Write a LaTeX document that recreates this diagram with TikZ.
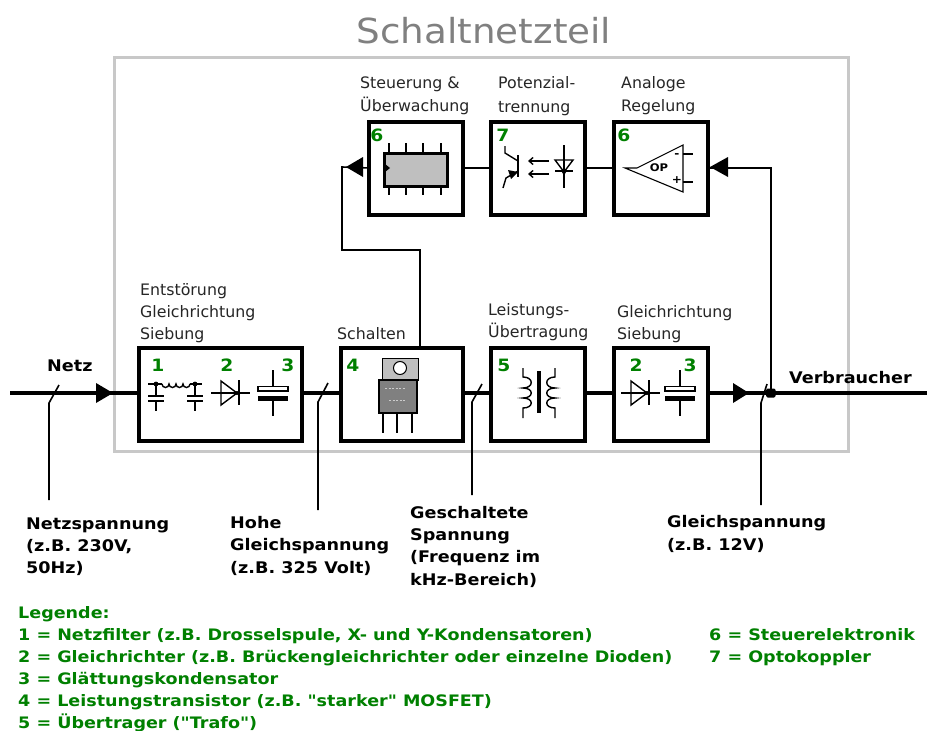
\documentclass[tikz,border=0pt]{standalone}
\usepackage{fontspec}
\setmainfont{DejaVu Sans}
\newfontfamily\plainf[FakeStretch=1.0]{DejaVu Sans}
\newfontfamily\titlef[FakeStretch=1.08]{DejaVu Sans}
\newfontfamily\boldf[FakeStretch=1.1]{DejaVu Sans Bold}
\newfontfamily\legf[FakeStretch=1.11]{DejaVu Sans Bold}
\usetikzlibrary{arrows.meta}
\definecolor{lgreen}{RGB}{0,128,0}
\definecolor{frame}{RGB}{200,200,200}
\tikzset{x=1pt,y=-1pt,
 blockbox/.style={draw=black,line width=4pt,fill=white,minimum width=94pt,minimum height=93pt,inner sep=0pt,outer sep=0pt},
 lab/.style={anchor=base west,inner sep=0pt,font=\plainf\fontsize{15.8}{16}\selectfont,text=black!85},
 blab/.style={anchor=base west,inner sep=0pt,font=\boldf\fontsize{16}{16}\selectfont},
 leg/.style={anchor=base west,inner sep=0pt,font=\legf\fontsize{15.8}{16}\selectfont,text=lgreen},
 num/.style={anchor=center,inner sep=0pt,font=\boldf\fontsize{17}{17}\selectfont,text=lgreen},
 thin line/.style={line width=1.6pt},
 main/.style={line width=3.4pt},
 sym/.style={line width=1.4pt},
 tri/.style={fill=black,draw=none}}
\begin{document}
\begin{tikzpicture}
\useasboundingbox (0,0) rectangle (927,731);
\fill[white] (0,0) rectangle (927,731);
\draw[frame,line width=3pt] (114,57) rectangle (848,451);
\node[anchor=base,inner sep=0pt,font=\titlef\fontsize{34.5}{36}\selectfont,text=black!50] (title) at (484,43) {Schaltnetzteil};

\coordinate (in) at (10,393);
\coordinate (out) at (927,393);
\coordinate (junc) at (771,393);
\coordinate (fb1) at (342,250);
\coordinate (fb2) at (420,250);

\node[blockbox,minimum width=163pt] (b1) at (220.5,394.5) {};
\node[blockbox,minimum width=122pt] (b4) at (402,394.5) {};
\node[blockbox] (b5) at (538,394.5) {};
\node[blockbox] (b23) at (661,394.5) {};
\node[blockbox] (c6a) at (416,168) {};
\node[blockbox] (c7) at (538,168) {};
\node[blockbox] (c6b) at (660.5,168) {};

\draw[main] (in) -- (b1.west|-in);
\draw[main] (b1.east|-in) -- (b4.west|-in);
\draw[main] (b4.east|-in) -- (b5.west|-in);
\draw[main] (b5.east|-in) -- (b23.west|-in);
\draw[main] (b23.east|-in) -- (out);
\draw[thin line] (c6a) -- (c7);
\draw[thin line] (c7) -- (c6b);
\draw[thin line] (b4.north-|fb2) -- (fb2) -- (fb1) -- (342,167) -- (c6a.west);
\draw[thin line] (junc) -- (771,168) -- (c6b.east);
\fill[rounded corners=1.5pt] (junc) +(-5,-4.5) rectangle +(4.5,4.5);
\fill[tri] (96,383) -- (113,393) -- (96,403) -- cycle;
\fill[tri] (733,383) -- (749,393) -- (733,403) -- cycle;
\fill[tri] (346,167) -- (363,157) -- (363,177) -- cycle;
\fill[tri] (710,167) -- (728,157) -- (728,177) -- cycle;
\draw[thin line] (59,385) -- (49,403) -- (49,500);
\draw[thin line] (328,383) -- (318,402) -- (318,510);
\draw[thin line] (482,384) -- (472,402) -- (472,495);
\draw[thin line] (767,384) -- (761,403) -- (761,505);

\node[lab] (t1) at (140,295) {Entstörung};
\node[lab] (t2) at (140,317) {Gleichrichtung};
\node[lab] (t3) at (140,339) {Siebung};
\node[lab] (t4) at (337,339) {Schalten};
\node[lab] (t5) at (488,315) {Leistungs-};
\node[lab] (t6) at (488,337) {Übertragung};
\node[lab] (t7) at (617,317) {Gleichrichtung};
\node[lab] (t8) at (617,339) {Siebung};
\node[lab] (t9) at (360,88) {Steuerung \&};
\node[lab] (t10) at (360,111) {Überwachung};
\node[lab] (t11) at (498,88) {Potenzial-};
\node[lab] (t12) at (498,112) {trennung};
\node[lab] (t13) at (621,88) {Analoge};
\node[lab] (t14) at (621,111) {Regelung};

\node[num] (n1) at (158,365) {1};
\node[num] (n2) at (227,365) {2};
\node[num] (n3) at (288,365) {3};
\node[num] (n4) at (353,365) {4};
\node[num] (n5) at (504,365) {5};
\node[num] (n6) at (636,365) {2};
\node[num] (n7) at (690,365) {3};
\node[num] (n8) at (377,135) {6};
\node[num] (n9) at (503,135) {7};
\node[num] (n10) at (624,135) {6};

\begin{scope}[sym]
\draw (148,384) -- (162,384);
\draw (162,384) arc (180:0:3.5) arc (180:0:3.5) arc (180:0:3.5) arc (180:0:3.5);
\draw (190,384) -- (202,384);
\foreach \x in {156,195}{
 \fill (\x,384) circle (2.4);
 \draw (\x,384) -- (\x,396);
 \draw[line width=1.8pt] (\x-8,396) -- (\x+8,396);
 \draw[line width=1.8pt] (\x-8,401) -- (\x+8,401);
 \draw (\x,401) -- (\x,411);
}
\foreach \dx/\cx in {0/273,410/680}{
 \begin{scope}[shift={(\dx,0)}]
 \draw (211,393) -- (250,393);
 \draw (221,381) -- (237,393) -- (221,405) -- cycle;
 \draw (239,380) -- (239,405);
 \fill (237,393) circle (2);
 \end{scope}
 \draw (\cx,370) -- (\cx,386);
 \draw[line width=1.2pt] (\cx-15,386.5) rectangle (\cx+15,391);
 \fill (\cx-15,396) rectangle (\cx+15,401);
 \draw (\cx,401) -- (\cx,416);
}
\fill (537,371) rectangle (541,413);
\draw (523,368) -- (523,377) .. controls (534,377) and (534,388) .. (523,388) .. controls (534,388) and (534,398) .. (523,398) .. controls (534,398) and (534,408) .. (523,408) -- (523,418);
\draw (555,368) -- (555,377) .. controls (544,377) and (544,388) .. (555,388) .. controls (544,388) and (544,398) .. (555,398) .. controls (544,398) and (544,408) .. (555,408) -- (555,418);
\end{scope}

\draw[black,line width=1pt,fill=black!25] (382,358) rectangle (418,380);
\draw[black,line width=1pt,fill=white] (400,368) circle (6.5);
\draw[black,line width=1.2pt,fill=black!50] (379,380) rectangle (417,413);
\draw[white!80!black,line width=.8pt,dash pattern=on 2pt off 1.5pt] (385,388) -- (406,388);
\draw[white!80!black,line width=.8pt,dash pattern=on 2pt off 1.5pt] (389,400) -- (406,400);
\foreach \x in {383,397,412} \draw[line width=1.2pt] (\x,413) -- (\x,433);

\foreach \x in {389,406,423,441}{
 \draw[line width=1.2pt] (\x,143) -- (\x,153);
 \draw[line width=1.2pt] (\x,186) -- (\x,195);
}
\draw[black,line width=3pt,fill=black!25] (384,153) rectangle (447,186);
\fill (385,164) -- (390,168) -- (385,172) -- cycle;

\begin{scope}[sym]
\draw (505,146) -- (505,153) -- (518,161);
\draw[line width=1.8pt] (518,155) -- (518,177);
\draw (518,171) -- (506,178) -- (503,188);
\fill (518,172) -- (508,170) -- (511,179) -- cycle;
\draw[-{Straight Barb[length=4pt,width=7pt]}] (549,161) -- (528,161);
\draw[-{Straight Barb[length=4pt,width=7pt]}] (549,174) -- (528,174);
\draw (564,145) -- (564,188);
\draw (555,160) -- (573,160) -- (564,172) -- cycle;
\draw[line width=1.8pt] (555,171) -- (573,171);
\fill (564,172) circle (2);
\end{scope}

\begin{scope}[line width=1.1pt]
\draw (625,168) -- (637,168) -- (683,145) -- (683,192) -- cycle;
\draw (683,154) -- (693,154);
\draw (683,182) -- (693,182);
\end{scope}
\node[anchor=center,inner sep=0pt,font=\boldf\fontsize{10.5}{11}\selectfont] (op) at (659,168) {OP};
\node[anchor=center,inner sep=0pt,font=\boldf\fontsize{11}{11}\selectfont] (opm) at (677,156) {-};
\node[anchor=center,inner sep=0pt,font=\boldf\fontsize{11}{11}\selectfont] (opp) at (677,180) {+};

\node[blab] (a1) at (47,371) {Netz};
\node[blab] (a2) at (789,383) {Verbraucher};
\node[blab] (a3) at (26,529) {Netzspannung};
\node[blab] (a4) at (26,551) {(z.B. 230V,};
\node[blab] (a5) at (26,573) {50Hz)};
\node[blab] (a6) at (230,528) {Hohe};
\node[blab] (a7) at (230,550) {Gleichspannung};
\node[blab] (a8) at (230,573) {(z.B. 325 Volt)};
\node[blab] (a9) at (410,518) {Geschaltete};
\node[blab] (a10) at (410,540) {Spannung};
\node[blab] (a11) at (410,562) {(Frequenz im};
\node[blab] (a12) at (410,585) {kHz-Bereich)};
\node[blab] (a13) at (667,527) {Gleichspannung};
\node[blab] (a14) at (667,550) {(z.B. 12V)};

\node[leg] (l0) at (18,618) {Legende:};
\node[leg] (l1) at (18,640) {1 = Netzfilter (z.B. Drosselspule, X- und Y-Kondensatoren)};
\node[leg] (l2) at (18,662) {2 = Gleichrichter (z.B. Brückengleichrichter oder einzelne Dioden)};
\node[leg] (l3) at (18,684) {3 = Glättungskondensator};
\node[leg] (l4) at (18,706) {4 = Leistungstransistor (z.B. "starker" MOSFET)};
\node[leg] (l5) at (18,728) {5 = Übertrager ("Trafo")};
\node[leg] (l6) at (709,640) {6 = Steuerelektronik};
\node[leg] (l7) at (709,662) {7 = Optokoppler};
\end{tikzpicture}
\end{document}
